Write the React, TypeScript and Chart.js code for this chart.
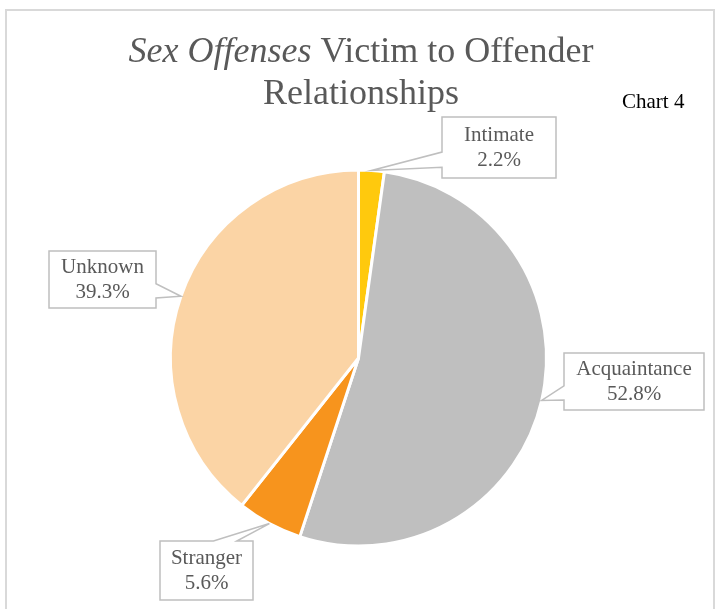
import React, { useEffect, useRef } from "react";
import { Chart, registerables } from "chart.js";

Chart.register(...registerables);

// ---- data ----
const categories = ["Intimate", "Acquaintance", "Stranger", "Unknown"];
const values = [2.2, 52.8, 5.6, 39.3];
const sliceColors = ["#FFC90D", "#BFBFBF", "#F7941D", "#FBD4A5"];

const titleItalic = "Sex Offenses";
const titleRest = " Victim to Offender";
const titleLine2 = "Relationships";
const chartTag = "Chart 4";

// ---- layout (callout boxes: left, top, width, height) ----
const labelBoxes = [
  { x: 442, y: 117, w: 114, h: 61 },
  { x: 564, y: 353, w: 140, h: 57 },
  { x: 160, y: 541, w: 93, h: 59 },
  { x: 49, y: 251, w: 107, h: 57 },
];

const FONT = '"Liberation Serif", "Times New Roman", serif';
const TEXT_GRAY = "#595959";
const LINE_GRAY = "#BFBFBF";

const framePlugin = {
  id: "frame",
  beforeDraw(chart: any) {
    const ctx = chart.ctx;
    ctx.save();
    ctx.fillStyle = "#ffffff";
    ctx.fillRect(0, 0, chart.width, chart.height);
    ctx.strokeStyle = "#D9D9D9";
    ctx.lineWidth = 2;
    ctx.strokeRect(6, 10, 708, 700);
    ctx.restore();
  },
};

const titlePlugin = {
  id: "customTitle",
  afterDraw(chart: any) {
    const ctx = chart.ctx;
    ctx.save();
    ctx.fillStyle = TEXT_GRAY;
    ctx.textBaseline = "alphabetic";
    ctx.textAlign = "left";
    const size = 36;
    const centerX = 361;
    ctx.font = `italic ${size}px ${FONT}`;
    const w1 = ctx.measureText(titleItalic).width;
    ctx.font = `${size}px ${FONT}`;
    const w2 = ctx.measureText(titleRest).width;
    const start = centerX - (w1 + w2) / 2;
    ctx.font = `italic ${size}px ${FONT}`;
    ctx.fillText(titleItalic, start, 62);
    ctx.font = `${size}px ${FONT}`;
    ctx.fillText(titleRest, start + w1, 62);
    ctx.textAlign = "center";
    ctx.fillText(titleLine2, centerX, 104);

    ctx.textAlign = "left";
    ctx.fillStyle = "#000000";
    ctx.font = `21px ${FONT}`;
    ctx.fillText(chartTag, 622, 108);
    ctx.restore();
  },
};

const calloutPlugin = {
  id: "callouts",
  afterDatasetsDraw(chart: any) {
    const ctx = chart.ctx;
    const meta = chart.getDatasetMeta(0);
    const data = chart.data.datasets[0].data as number[];
    ctx.save();
    meta.data.forEach((arc: any, i: number) => {
      const box = labelBoxes[i];
      if (!box) return;
      const mid = (arc.startAngle + arc.endAngle) / 2;
      const r = arc.outerRadius;
      const tx = arc.x + Math.cos(mid) * r;
      const ty = arc.y + Math.sin(mid) * r;
      const { x, y, w, h } = box;
      const cx = x + w / 2;
      const cy = y + h / 2;
      const nx = (tx - cx) / (w / 2);
      const ny = (ty - cy) / (h / 2);
      let side: string;
      if (Math.abs(nx) >= Math.abs(ny)) side = nx < 0 ? "left" : "right";
      else side = ny < 0 ? "top" : "bottom";

      ctx.beginPath();
      if (side === "left" || side === "right") {
        const bc = ty > cy ? y + 0.7 * h : y + 0.3 * h;
        const hw = 0.125 * h;
        const b1 = bc - hw;
        const b2 = bc + hw;
        if (side === "left") {
          ctx.moveTo(x, y);
          ctx.lineTo(x + w, y);
          ctx.lineTo(x + w, y + h);
          ctx.lineTo(x, y + h);
          ctx.lineTo(x, b2);
          ctx.lineTo(tx, ty);
          ctx.lineTo(x, b1);
        } else {
          ctx.moveTo(x, y);
          ctx.lineTo(x + w, y);
          ctx.lineTo(x + w, b1);
          ctx.lineTo(tx, ty);
          ctx.lineTo(x + w, b2);
          ctx.lineTo(x + w, y + h);
          ctx.lineTo(x, y + h);
        }
      } else {
        const ac = tx > cx ? x + 0.7 * w : x + 0.3 * w;
        const hw = 0.125 * w;
        const a1 = ac - hw;
        const a2 = ac + hw;
        if (side === "top") {
          ctx.moveTo(x, y);
          ctx.lineTo(a1, y);
          ctx.lineTo(tx, ty);
          ctx.lineTo(a2, y);
          ctx.lineTo(x + w, y);
          ctx.lineTo(x + w, y + h);
          ctx.lineTo(x, y + h);
        } else {
          ctx.moveTo(x, y);
          ctx.lineTo(x + w, y);
          ctx.lineTo(x + w, y + h);
          ctx.lineTo(a2, y + h);
          ctx.lineTo(tx, ty);
          ctx.lineTo(a1, y + h);
          ctx.lineTo(x, y + h);
        }
      }
      ctx.closePath();
      ctx.fillStyle = "#ffffff";
      ctx.fill();
      ctx.strokeStyle = LINE_GRAY;
      ctx.lineWidth = 1.5;
      ctx.lineJoin = "miter";
      ctx.stroke();

      ctx.fillStyle = TEXT_GRAY;
      ctx.font = `21px ${FONT}`;
      ctx.textAlign = "center";
      ctx.textBaseline = "middle";
      ctx.fillText(chart.data.labels[i], cx, cy - 12);
      ctx.fillText(`${data[i].toFixed(1)}%`, cx, cy + 13);
    });
    ctx.restore();
  },
};

export default function App() {
  const canvasRef = useRef<HTMLCanvasElement | null>(null);

  useEffect(() => {
    if (!canvasRef.current) return;
    const chart = new Chart(canvasRef.current, {
      type: "pie",
      data: {
        labels: categories,
        datasets: [
          {
            data: values,
            backgroundColor: sliceColors,
            borderColor: "#ffffff",
            borderWidth: 3,
            radius: 188,
          } as any,
        ],
      },
      options: {
        responsive: false,
        animation: false,
        events: [],
        layout: { padding: { left: 172, right: 173, top: 172, bottom: 65 } },
        plugins: {
          legend: { display: false },
          tooltip: { enabled: false },
          title: { display: false },
        },
      } as any,
      plugins: [framePlugin, titlePlugin, calloutPlugin],
    });
    return () => chart.destroy();
  }, []);

  return (
    <div style={{ position: "absolute", left: 0, top: 0, width: 718, height: 609, background: "#fff" }}>
      <canvas ref={canvasRef} width={718} height={609} style={{ width: 718, height: 609, display: "block" }} />
    </div>
  );
}
